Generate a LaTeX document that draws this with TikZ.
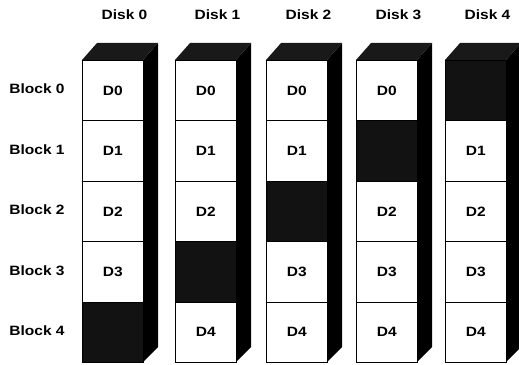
\documentclass[tikz,border=0pt]{standalone}
\usepackage{fontspec}
\setmainfont{Liberation Sans}[FakeStretch=1.15]
\begin{document}
\begin{tikzpicture}[x=1pt,y=1pt,
  lbl/.style={font=\bfseries\fontsize{13.5}{14}\selectfont, inner sep=0pt},
  datacell/.style={draw=black, fill=white, line width=0.8pt, minimum width=61pt, minimum height=60.4pt, inner sep=0pt, anchor=north west, font=\bfseries\fontsize{13.5}{14}\selectfont},
  paritycell/.style={datacell, fill=black!93},
  sideface/.style={fill=black},
  topface/.style={fill=black!90}]
\useasboundingbox (0,0) rectangle (519,364);
\foreach \d/\L in {0/82,1/175,2/266,3/356,4/445} {
  \fill[sideface] (\L+61,304) -- (\L+76,321) -- (\L+76,17) -- (\L+61,2) -- cycle;
  \fill[topface] (\L,304) -- (\L+15,321) -- (\L+76,321) -- (\L+61,304) -- cycle;
  \node[lbl] (disk\d) at (\L+42.5,349) {Disk \d};
  \pgfmathtruncatemacro\p{4-\d}
  \foreach \b in {0,...,4} {
    \ifnum\b=\p
      \node[paritycell] (c\d\b) at (\L,304-\b*60.4) {};
    \else
      \node[datacell] (c\d\b) at (\L,304-\b*60.4) {D\b};
    \fi
  }
}
\foreach \b in {0,...,4} {
  \node[lbl] (blk\b) at (37,304-\b*60.4-29) {Block \b};
}
\end{tikzpicture}
\end{document}
